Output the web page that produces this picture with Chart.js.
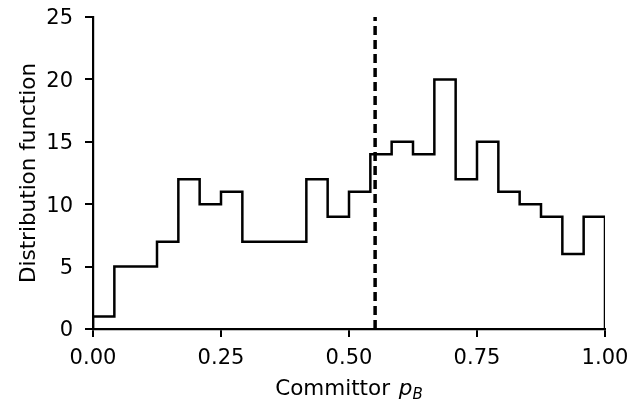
<!DOCTYPE html>
<html>
<head>
<meta charset="utf-8">
<script src="https://cdn.jsdelivr.net/npm/chart.js@4"></script>
<style>
    html, body { margin: 0; padding: 0; background: #fff; }
    #wrap { width: 640px; height: 403px; position: relative; }
</style>
</head>
<body>
<div id="wrap"><canvas id="histChart"></canvas></div>
<script>
// Histogram of committor values, 24 bins on [0, 1]
const binEdges = [0, 0.0417, 0.0833, 0.125, 0.1667, 0.2083, 0.25, 0.2917, 0.3333, 0.375, 0.4167, 0.4583,
    0.5, 0.5417, 0.5833, 0.625, 0.6667, 0.7083, 0.75, 0.7917, 0.8333, 0.875, 0.9167, 0.9583, 1];
const binCounts = [1, 5, 5, 7, 12, 10, 11, 7, 7, 7, 12, 9, 11, 14, 15, 14, 20, 12, 15, 11, 10, 9, 6, 9];
const markerX = 0.551;            // dashed vertical line
const xTicks = [0, 0.25, 0.5, 0.75, 1];
const yTicks = [0, 5, 10, 15, 20, 25];
const yTitle = 'Distribution function';
const xTitleMain = 'Committor ';
const xTitleVar = 'p';
const xTitleSub = 'B';

const FONT = '"DejaVu Sans", sans-serif';
const TICK_SIZE = 21;
const TITLE_SIZE = 21.5;

// outline points: start at baseline, one point per left edge, close at right edge
const stepPoints = [{ x: binEdges[0], y: 0 }];
binCounts.forEach((c, i) => stepPoints.push({ x: binEdges[i], y: c }));
stepPoints.push({ x: binEdges[binEdges.length - 1], y: binCounts[binCounts.length - 1] });
stepPoints.push({ x: binEdges[binEdges.length - 1], y: 0 });

// x title has a math part (italic p with subscript B), drawn by hand
const xTitlePlugin = {
    id: 'xTitle',
    afterDraw(chart) {
        const ctx = chart.ctx;
        const area = chart.chartArea;
        const subSize = TITLE_SIZE * 0.7;
        ctx.save();
        ctx.fillStyle = '#000';
        ctx.textBaseline = 'alphabetic';
        ctx.font = TITLE_SIZE + 'px ' + FONT;
        const w1 = ctx.measureText(xTitleMain).width + 2;
        ctx.font = 'italic ' + TITLE_SIZE + 'px ' + FONT;
        const w2 = ctx.measureText(xTitleVar).width;
        ctx.font = 'italic ' + subSize + 'px ' + FONT;
        const w3 = ctx.measureText(xTitleSub).width;
        let x = (area.left + area.right) / 2 - (w1 + w2 + w3) / 2;
        const y = 395;
        ctx.font = TITLE_SIZE + 'px ' + FONT;
        ctx.fillText(xTitleMain, x, y);
        x += w1;
        ctx.font = 'italic ' + TITLE_SIZE + 'px ' + FONT;
        ctx.fillText(xTitleVar, x, y);
        x += w2;
        ctx.font = 'italic ' + subSize + 'px ' + FONT;
        ctx.fillText(xTitleSub, x, y + 4);
        ctx.restore();
    }
};

const ctx = document.getElementById('histChart').getContext('2d');
new Chart(ctx, {
    type: 'line',
    data: {
        datasets: [
            {
                data: stepPoints,
                stepped: 'before',
                borderColor: '#000',
                borderWidth: 2.5,
                pointRadius: 0,
                fill: false
            },
            {
                data: [{ x: markerX, y: yTicks[0] }, { x: markerX, y: yTicks[yTicks.length - 1] }],
                borderColor: '#000',
                borderWidth: 3.5,
                borderDash: [9, 5],
                pointRadius: 0,
                fill: false
            }
        ]
    },
    options: {
        responsive: true,
        maintainAspectRatio: false,
        animation: false,
        layout: { padding: { left: 0, right: 35, top: 17, bottom: 0 } },
        plugins: {
            legend: { display: false },
            tooltip: { enabled: false }
        },
        scales: {
            x: {
                type: 'linear',
                min: xTicks[0],
                max: xTicks[xTicks.length - 1],
                afterFit: (scale) => {
                    scale.height = 74;
                    scale.paddingLeft = 0;
                    scale.paddingRight = 0;
                },
                afterBuildTicks: (scale) => { scale.ticks = xTicks.map(v => ({ value: v })); },
                grid: { drawOnChartArea: false, drawTicks: true, tickLength: 8, color: '#000', lineWidth: 2 },
                border: { display: true, color: '#000', width: 2.2 },
                ticks: {
                    color: '#000',
                    font: { family: FONT, size: TICK_SIZE },
                    padding: 9,
                    maxRotation: 0,
                    autoSkip: false,
                    callback: (v) => Number(v).toFixed(2)
                }
            },
            y: {
                min: yTicks[0],
                max: yTicks[yTicks.length - 1],
                afterFit: (scale) => {
                    scale.width = 93;
                    scale.paddingTop = 0;
                    scale.paddingBottom = 0;
                },
                afterBuildTicks: (scale) => { scale.ticks = yTicks.map(v => ({ value: v })); },
                grid: { drawOnChartArea: false, drawTicks: true, tickLength: 8, color: '#000', lineWidth: 2 },
                border: { display: true, color: '#000', width: 2.2 },
                title: {
                    display: true,
                    text: yTitle,
                    color: '#000',
                    font: { family: FONT, size: TITLE_SIZE },
                    padding: { top: 17, bottom: 0 }
                },
                ticks: {
                    color: '#000',
                    font: { family: FONT, size: TICK_SIZE },
                    padding: 12,
                    labelOffset: 2,
                    autoSkip: false
                }
            }
        }
    },
    plugins: [xTitlePlugin]
});
</script>
</body>
</html>
